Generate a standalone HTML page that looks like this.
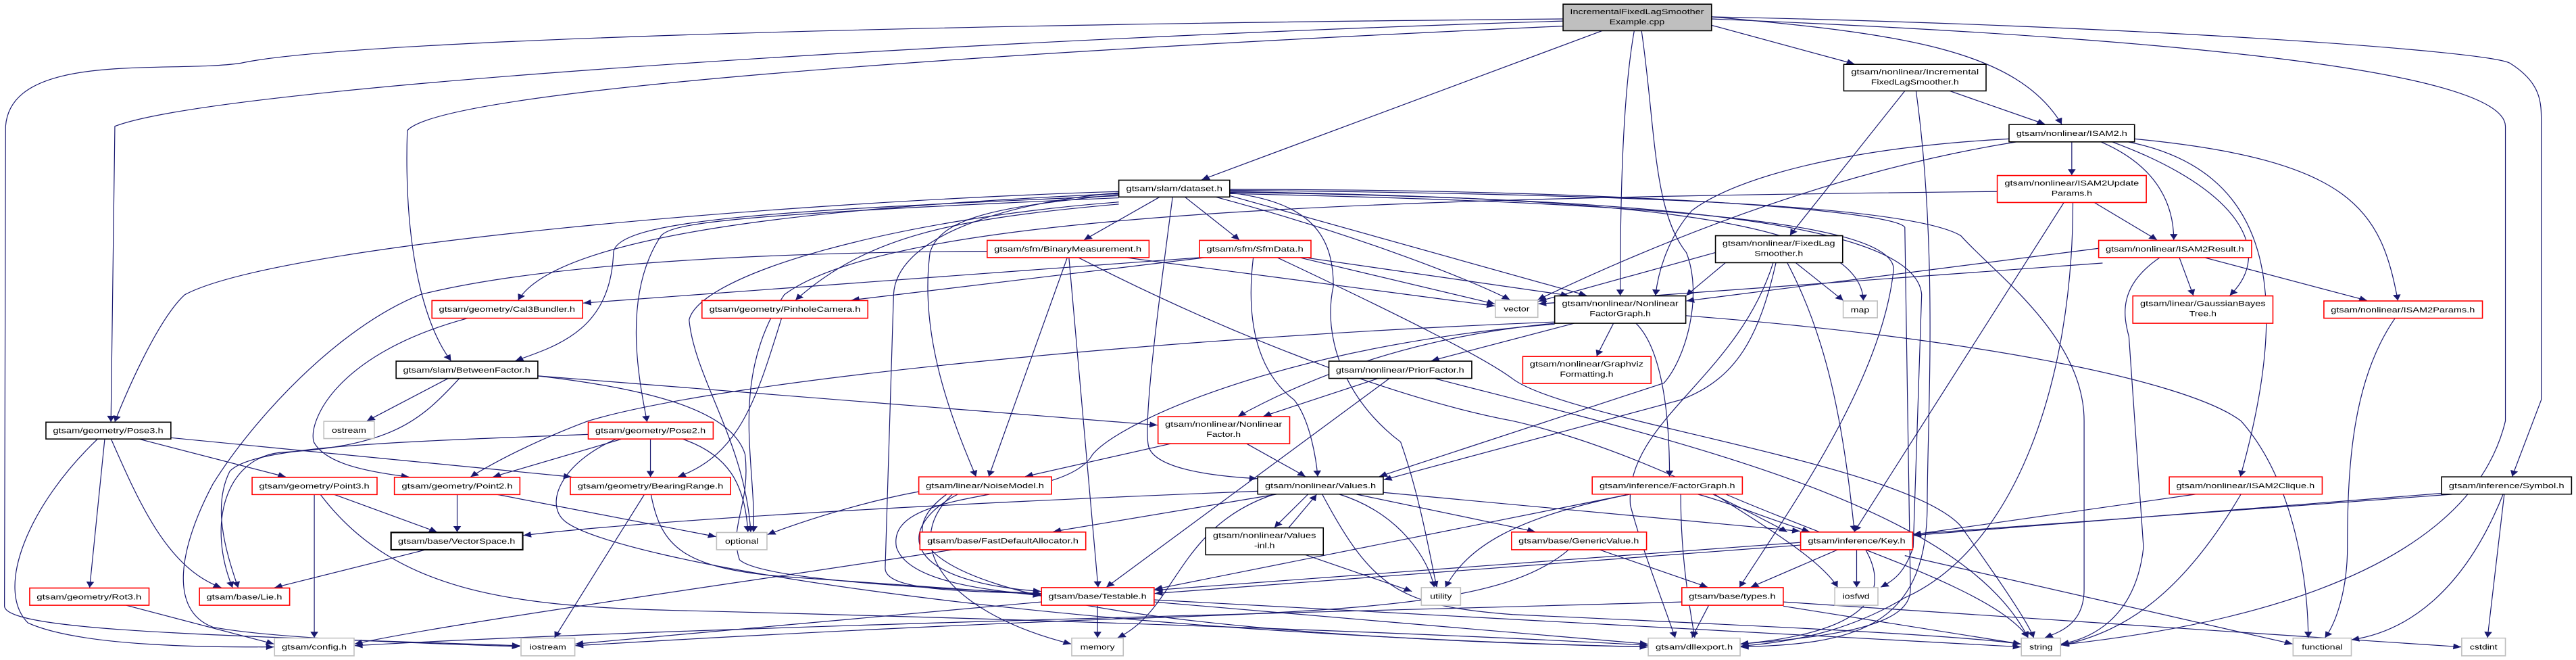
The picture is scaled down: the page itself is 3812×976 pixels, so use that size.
<!DOCTYPE html>
<html><head><meta charset="utf-8"><style>
html,body{margin:0;padding:0;background:#fff;}
svg{display:block;}
text{font-family:"Liberation Sans","DejaVu Sans",sans-serif;font-size:17px;fill:#000;}
.e{fill:none;stroke:#191970;stroke-width:1.2;vector-effect:non-scaling-stroke;}
.b{fill:#fff;stroke:#000;stroke-width:1.6;vector-effect:non-scaling-stroke;}
.r{fill:#fff;stroke:#ff0000;stroke-width:1.6;vector-effect:non-scaling-stroke;}
.g{fill:#fff;stroke:#bfbfbf;stroke-width:1.6;vector-effect:non-scaling-stroke;}
.root{fill:#bfbfbf;stroke:#000;stroke-width:1.6;vector-effect:non-scaling-stroke;}
</style></head><body>
<svg width="3812" height="976" viewBox="0 0 4598 1568" preserveAspectRatio="none" xmlns="http://www.w3.org/2000/svg">
<defs><marker id="a" viewBox="0 0 10 10" refX="10" refY="5" markerUnits="userSpaceOnUse" markerWidth="16" markerHeight="14" orient="auto"><path d="M0,0 L10,5 L0,10 z" fill="#191970"/></marker></defs>
<g class="edges" marker-end="url(#a)">
<!-- Example.cpp -->
<path class="e" marker-end="url(#a)" d="M2790,45 C1500,60 600,100 430,150 C300,175 20,120 10,300 L8,1440 C10,1500 400,1510 928,1534"/>
<path class="e" marker-end="url(#a)" d="M2790,50 C1800,90 400,200 205,300 L198,1002"/>
<path class="e" marker-end="url(#a)" d="M2790,62 C2000,110 800,200 727,310 C720,600 760,780 805,857"/>
<path class="e" marker-end="url(#a)" d="M2860,73 L2145,427"/>
<path class="e" marker-end="url(#a)" d="M2917,73 C2900,200 2892,400 2892,702"/>
<path class="e" marker-end="url(#a)" d="M2930,73 C2955,300 2950,500 3010,600 C3040,700 3010,850 2970,910 L2462,1132"/>
<path class="e" marker-end="url(#a)" d="M3055,60 L3310,152"/>
<path class="e" marker-end="url(#a)" d="M3055,40 C3400,80 3600,120 3680,295"/>
<path class="e" marker-end="url(#a)" d="M3055,45 C3700,80 4470,150 4472,300 L4472,1000 C4400,1400 3900,1500 3678,1532"/>
<path class="e" marker-end="url(#a)" d="M3055,40 C3800,60 4440,120 4480,150 C4540,200 4536,250 4536,300 L4536,950 L4484,1132"/>
<!-- dataset -->
<path class="e" marker-end="url(#a)" d="M1997,455 C1400,480 500,580 330,700 C280,760 220,950 205,1002"/>
<path class="e" marker-end="url(#a)" d="M1997,460 C1500,490 1000,550 925,713"/>
<path class="e" marker-end="url(#a)" d="M1997,465 C1400,500 1100,520 1095,600 C1090,780 1000,820 920,857"/>
<path class="e" marker-end="url(#a)" d="M1997,470 C1300,510 1200,530 1180,560 C1110,700 1140,900 1155,1002"/>
<path class="e" marker-end="url(#a)" d="M1997,480 C1600,520 1250,650 1230,760 C1240,900 1330,1050 1340,1264"/>
<path class="e" marker-end="url(#a)" d="M1997,485 C1700,520 1550,560 1420,713"/>
<path class="e" marker-end="url(#a)" d="M1997,462 C1800,490 1680,510 1660,600 C1640,800 1700,1000 1742,1132"/>
<path class="e" marker-end="url(#a)" d="M1997,458 C1800,480 1600,560 1595,700 L1580,1350 C1580,1400 1700,1405 1858,1410"/>
<path class="e" marker-end="url(#a)" d="M2070,468 L1935,570"/>
<path class="e" marker-end="url(#a)" d="M2115,468 L2212,570"/>
<path class="e" marker-end="url(#a)" d="M2093,468 C2070,700 2040,1000 2050,1060 C2060,1110 2150,1130 2244,1137"/>
<path class="e" marker-end="url(#a)" d="M2170,468 C2400,550 2600,650 2695,712"/>
<path class="e" marker-end="url(#a)" d="M2195,465 L2832,702"/>
<path class="e" marker-end="url(#a)" d="M2195,458 C2340,480 2380,560 2380,680 C2360,800 2400,950 2500,1050 C2540,1200 2560,1380 2565,1395"/>
<path class="e" marker-end="url(#a)" d="M2195,452 C2800,460 3400,480 3500,560 C3560,650 3720,800 3720,1000 L3720,1400 C3720,1480 3680,1500 3650,1515"/>
<path class="e" marker-end="url(#a)" d="M2195,455 C2800,470 3320,500 3326,714"/>
<path class="e" marker-end="url(#a)" d="M2195,457 C2900,470 3420,520 3430,700 L3415,1300 C3400,1360 3380,1380 3357,1395"/>
<path class="e" marker-end="url(#a)" d="M2195,460 C2900,480 3380,520 3380,640 C3360,900 3200,1200 3105,1395"/>
<path class="e" marker-end="url(#a)" d="M2195,450 C2900,450 3380,500 3400,540 L3410,1400 C3410,1480 3300,1510 3106,1530"/>
<!-- BinaryMeasurement -->
<path class="e" marker-end="url(#a)" d="M1762,597 C1200,600 900,650 750,700 C600,780 450,1000 380,1150 C320,1300 300,1450 380,1490 C500,1520 800,1530 928,1536"/>
<path class="e" marker-end="url(#a)" d="M1905,612 L1765,1132"/>
<path class="e" marker-end="url(#a)" d="M1908,612 L1960,1395"/>
<path class="e" marker-end="url(#a)" d="M2010,612 L2668,727"/>
<path class="e" marker-end="url(#a)" d="M1925,612 C2200,800 2500,950 2700,1000 C2900,1060 3100,1200 3190,1264"/>
<!-- SfmData -->
<path class="e" marker-end="url(#a)" d="M2141,612 L1041,720"/>
<path class="e" marker-end="url(#a)" d="M2150,612 L1520,713"/>
<path class="e" marker-end="url(#a)" d="M2320,612 L2668,722"/>
<path class="e" marker-end="url(#a)" d="M2330,612 L2800,702"/>
<path class="e" marker-end="url(#a)" d="M2237,612 C2220,800 2260,900 2310,950 C2340,1000 2350,1100 2352,1132"/>
<path class="e" marker-end="url(#a)" d="M2280,612 C2500,750 2650,850 2700,900 C2800,1000 3400,1100 3500,1250 C3580,1400 3620,1480 3630,1515"/>
<!-- NFG -->
<path class="e" marker-end="url(#a)" d="M2810,768 L2555,857"/>
<path class="e" marker-end="url(#a)" d="M2880,768 L2850,846"/>
<path class="e" marker-end="url(#a)" d="M2920,768 C2960,820 2980,950 2980,1132"/>
<path class="e" marker-end="url(#a)" d="M2775,768 C2600,790 2400,850 2210,989"/>
<path class="e" marker-end="url(#a)" d="M2775,765 C2100,800 1300,900 1050,1000 C950,1050 880,1100 840,1133"/>
<path class="e" marker-end="url(#a)" d="M2775,770 C2300,820 2000,1000 1950,1080 C1900,1200 1580,1150 1600,1300 C1620,1380 1750,1400 1858,1415"/>
<path class="e" marker-end="url(#a)" d="M3009,750 C3500,800 3900,900 4000,1000 C4100,1150 4120,1400 4120,1515"/>
<!-- PriorFactor -->
<path class="e" marker-end="url(#a)" d="M2460,899 L2255,989"/>
<path class="e" marker-end="url(#a)" d="M2480,899 L1975,1395"/>
<path class="e" marker-end="url(#a)" d="M2560,899 C3000,1050 3500,1200 3620,1515"/>
<!-- NonlinearFactor -->
<path class="e" marker-end="url(#a)" d="M2090,1054 L1830,1132"/>
<path class="e" marker-end="url(#a)" d="M2225,1054 L2330,1132"/>
<!-- BetweenFactor -->
<path class="e" marker-end="url(#a)" d="M800,899 L655,1000"/>
<path class="e" marker-end="url(#a)" d="M820,899 C750,1000 700,1060 500,1075 C400,1090 370,1250 415,1396"/>
<path class="e" marker-end="url(#a)" d="M960,893 L2066,1010"/>
<path class="e" marker-end="url(#a)" d="M960,893 C1200,930 1310,990 1330,1080 C1340,1200 1300,1250 1320,1330 C1360,1380 1700,1400 1858,1410"/>
<!-- geometry -->
<path class="e" marker-end="url(#a)" d="M835,756 C600,840 550,1000 560,1050 C580,1100 650,1120 730,1133"/>
<path class="e" marker-end="url(#a)" d="M1395,756 C1350,950 1320,1080 1210,1133"/>
<path class="e" marker-end="url(#a)" d="M187,1042 L160,1396"/>
<path class="e" marker-end="url(#a)" d="M198,1042 C250,1200 300,1350 395,1396"/>
<path class="e" marker-end="url(#a)" d="M245,1042 L510,1133"/>
<path class="e" marker-end="url(#a)" d="M305,1040 L1020,1133"/>
<path class="e" marker-end="url(#a)" d="M175,1042 C50,1200 -10,1400 50,1480 C150,1540 400,1537 489,1537"/>
<path class="e" marker-end="url(#a)" d="M1050,1032 C700,1050 450,1060 410,1120 C380,1200 400,1300 425,1396"/>
<path class="e" marker-end="url(#a)" d="M1110,1043 L880,1133"/>
<path class="e" marker-end="url(#a)" d="M1161,1043 L1161,1133"/>
<path class="e" marker-end="url(#a)" d="M1218,1043 C1300,1080 1330,1150 1335,1264"/>
<path class="e" marker-end="url(#a)" d="M1100,1043 C1000,1100 970,1200 1010,1240 C1100,1330 1800,1500 2941,1537"/>
<path class="e" marker-end="url(#a)" d="M561,1175 L561,1515"/>
<path class="e" marker-end="url(#a)" d="M597,1175 L780,1264"/>
<path class="e" marker-end="url(#a)" d="M572,1175 C700,1400 900,1440 1200,1450 C1800,1470 2500,1500 2941,1533"/>
<path class="e" marker-end="url(#a)" d="M816,1175 L816,1264"/>
<path class="e" marker-end="url(#a)" d="M888,1175 L1278,1275"/>
<path class="e" marker-end="url(#a)" d="M1150,1175 L990,1515"/>
<path class="e" marker-end="url(#a)" d="M1162,1175 C1180,1300 1220,1350 1400,1370 L1858,1413"/>
<path class="e" marker-end="url(#a)" d="M760,1306 L490,1396"/>
<path class="e" marker-end="url(#a)" d="M225,1438 L489,1530"/>
<!-- Testable -->
<path class="e" marker-end="url(#a)" d="M1959,1438 L1959,1515"/>
<path class="e" marker-end="url(#a)" d="M1859,1430 C1500,1470 1200,1510 1027,1530"/>
<path class="e" marker-end="url(#a)" d="M2060,1425 L3607,1537"/>
<path class="e" marker-end="url(#a)" d="M2060,1430 L2941,1530"/>
<path class="e" marker-end="url(#a)" d="M1700,1306 C1400,1370 800,1480 633,1530"/>
<!-- NoiseModel -->
<path class="e" marker-end="url(#a)" d="M1640,1168 C1550,1190 1450,1230 1370,1270"/>
<path class="e" marker-end="url(#a)" d="M1710,1174 C1600,1250 1600,1380 1858,1405"/>
<path class="e" marker-end="url(#a)" d="M1690,1174 C1560,1300 1650,1500 2941,1537"/>
<path class="e" marker-end="url(#a)" d="M1700,1174 C1600,1300 1700,1460 1912,1530"/>
<!-- Values -->
<path class="e" marker-end="url(#a)" d="M2245,1167 C1800,1190 1200,1230 934,1272"/>
<path class="e" marker-end="url(#a)" d="M2280,1174 L1880,1263"/>
<path class="e" marker-end="url(#a)" d="M2335,1174 L2275,1253"/>
<path class="e" marker-end="url(#a)" d="M2300,1254 L2350,1175"/>
<path class="e" marker-end="url(#a)" d="M2420,1174 L2740,1263"/>
<path class="e" marker-end="url(#a)" d="M2390,1174 C2500,1220 2550,1330 2560,1395"/>
<path class="e" marker-end="url(#a)" d="M2275,1174 C2100,1250 2100,1450 1995,1515"/>
<path class="e" marker-end="url(#a)" d="M2360,1174 C2450,1400 2500,1440 2700,1460 C3200,1490 3500,1510 3607,1530"/>
<path class="e" marker-end="url(#a)" d="M2469,1170 L3213,1262"/>
<path class="e" marker-end="url(#a)" d="M2330,1318 L2520,1405"/>
<!-- GenericValue / FactorGraph / Key / types -->
<path class="e" marker-end="url(#a)" d="M2855,1306 L3048,1395"/>
<path class="e" marker-end="url(#a)" d="M2800,1306 C2700,1420 2500,1450 2000,1470 C1600,1490 1200,1520 1027,1534"/>
<path class="e" marker-end="url(#a)" d="M2910,1174 C2700,1230 2620,1300 2580,1395"/>
<path class="e" marker-end="url(#a)" d="M2910,1174 L2061,1400"/>
<path class="e" marker-end="url(#a)" d="M3030,1174 C3100,1200 3170,1240 3230,1263"/>
<path class="e" marker-end="url(#a)" d="M3060,1174 C3150,1250 3250,1330 3280,1395"/>
<path class="e" marker-end="url(#a)" d="M3080,1174 C3300,1300 3560,1400 3620,1515"/>
<path class="e" marker-end="url(#a)" d="M3000,1174 C3000,1300 3010,1400 3025,1515"/>
<path class="e" marker-end="url(#a)" d="M3280,1306 L3125,1395"/>
<path class="e" marker-end="url(#a)" d="M3314,1306 L3314,1395"/>
<path class="e" marker-end="url(#a)" d="M3330,1306 C3370,1400 3350,1500 3107,1530"/>
<path class="e" marker-end="url(#a)" d="M3400,1320 L4092,1530"/>
<path class="e" marker-end="url(#a)" d="M3214,1295 L2061,1410"/>
<path class="e" marker-end="url(#a)" d="M3050,1438 L3020,1515"/>
<path class="e" marker-end="url(#a)" d="M3183,1440 L3607,1530"/>
<path class="e" marker-end="url(#a)" d="M3183,1430 L4393,1537"/>
<path class="e" marker-end="url(#a)" d="M3002,1430 C2500,1450 1200,1490 633,1534"/>
<!-- ISAM2 -->
<path class="e" marker-end="url(#a)" d="M3698,337 L3698,416"/>
<path class="e" marker-end="url(#a)" d="M3586,330 C3300,350 3100,420 3020,500 C2980,560 2960,640 2955,702"/>
<path class="e" marker-end="url(#a)" d="M3600,337 C3300,400 3000,550 2745,712"/>
<path class="e" marker-end="url(#a)" d="M3750,337 C3860,400 3880,500 3880,570"/>
<path class="e" marker-end="url(#a)" d="M3770,337 C4000,450 4060,600 3980,702"/>
<path class="e" marker-end="url(#a)" d="M3790,335 C4060,400 4090,700 3999,1132"/>
<path class="e" marker-end="url(#a)" d="M3810,330 C4200,380 4250,500 4280,714"/>
<path class="e" marker-end="url(#a)" d="M3738,481 L3850,570"/>
<path class="e" marker-end="url(#a)" d="M3684,481 L3310,1263"/>
<path class="e" marker-end="url(#a)" d="M3700,481 C3700,900 3600,1300 3400,1420 C3300,1500 3200,1525 3107,1535"/>
<path class="e" marker-end="url(#a)" d="M3565,455 C2500,470 1600,500 1400,700 C1300,900 1350,1100 1345,1264"/>
<path class="e" marker-end="url(#a)" d="M3746,590 L3010,715"/>
<path class="e" marker-end="url(#a)" d="M3890,612 L3915,702"/>
<path class="e" marker-end="url(#a)" d="M3935,612 L4225,714"/>
<path class="e" marker-end="url(#a)" d="M3855,612 C3780,680 3790,750 3800,800 L3826,1300 C3810,1500 3700,1525 3679,1530"/>
<path class="e" marker-end="url(#a)" d="M3753,625 L2746,722"/>
<path class="e" marker-end="url(#a)" d="M4275,756 C4200,900 4190,1100 4190,1300 C4190,1400 4170,1480 4150,1515"/>
<path class="e" marker-end="url(#a)" d="M3920,1174 L3415,1270"/>
<path class="e" marker-end="url(#a)" d="M4000,1174 C3900,1400 3800,1500 3679,1533"/>
<path class="e" marker-end="url(#a)" d="M4358,1172 L3415,1272"/>
<path class="e" marker-end="url(#a)" d="M4380,1174 L2061,1402"/>
<path class="e" marker-end="url(#a)" d="M4468,1174 C4400,1400 4300,1500 4197,1520"/>
<path class="e" marker-end="url(#a)" d="M4470,1174 L4440,1515"/>
<!-- IFLS / FixedLagSmoother -->
<path class="e" marker-end="url(#a)" d="M3480,216 L3650,295"/>
<path class="e" marker-end="url(#a)" d="M3400,216 L3195,559"/>
<path class="e" marker-end="url(#a)" d="M3420,216 C3460,600 3440,1000 3440,1200 C3440,1500 3300,1530 3107,1537"/>
<path class="e" marker-end="url(#a)" d="M3062,600 L2746,716"/>
<path class="e" marker-end="url(#a)" d="M3080,624 L3010,702"/>
<path class="e" marker-end="url(#a)" d="M3205,624 L3290,714"/>
<path class="e" marker-end="url(#a)" d="M3190,624 C3260,800 3290,1000 3310,1263"/>
<path class="e" marker-end="url(#a)" d="M3170,624 C3140,800 3100,900 3000,950 L2470,1140"/>
<path class="e" marker-end="url(#a)" d="M3165,624 C3100,900 2900,1000 2910,1200 C2930,1300 2960,1400 2990,1515"/>
</g>
<g class="nodes">
<rect class="b" x="82" y="1003" width="223" height="40"/><text x="193" y="1029" text-anchor="middle" textLength="197" lengthAdjust="spacingAndGlyphs">gtsam/geometry/Pose3.h</text>
<rect class="g" x="578" y="1001" width="90" height="41"/><text x="623" y="1028" text-anchor="middle">ostream</text>
<rect class="r" x="1050" y="1003" width="223" height="40"/><text x="1161" y="1029" text-anchor="middle" textLength="197" lengthAdjust="spacingAndGlyphs">gtsam/geometry/Pose2.h</text>
<rect class="r" x="771" y="714" width="269" height="42"/><text x="905" y="741" text-anchor="middle" textLength="243" lengthAdjust="spacingAndGlyphs">gtsam/geometry/Cal3Bundler.h</text>
<rect class="r" x="1253" y="714" width="296" height="42"/><text x="1401" y="741" text-anchor="middle" textLength="270" lengthAdjust="spacingAndGlyphs">gtsam/geometry/PinholeCamera.h</text>
<rect class="b" x="707" y="858" width="253" height="41"/><text x="833" y="885" text-anchor="middle" textLength="227" lengthAdjust="spacingAndGlyphs">gtsam/slam/BetweenFactor.h</text>
<rect class="r" x="450" y="1134" width="223" height="41"/><text x="561" y="1161" text-anchor="middle" textLength="197" lengthAdjust="spacingAndGlyphs">gtsam/geometry/Point3.h</text>
<rect class="r" x="704" y="1134" width="224" height="41"/><text x="816" y="1161" text-anchor="middle" textLength="198" lengthAdjust="spacingAndGlyphs">gtsam/geometry/Point2.h</text>
<rect class="r" x="1018" y="1134" width="286" height="41"/><text x="1161" y="1161" text-anchor="middle" textLength="260" lengthAdjust="spacingAndGlyphs">gtsam/geometry/BearingRange.h</text>
<rect class="b" x="698" y="1265" width="235" height="41" style="stroke-width:2.2"/><text x="815" y="1292" text-anchor="middle" textLength="209" lengthAdjust="spacingAndGlyphs">gtsam/base/VectorSpace.h</text>
<rect class="g" x="1279" y="1265" width="90" height="41"/><text x="1324" y="1292" text-anchor="middle">optional</text>
<rect class="r" x="53" y="1397" width="213" height="41"/><text x="159" y="1424" text-anchor="middle" textLength="187" lengthAdjust="spacingAndGlyphs">gtsam/geometry/Rot3.h</text>
<rect class="r" x="356" y="1397" width="161" height="41"/><text x="436" y="1424" text-anchor="middle" textLength="135" lengthAdjust="spacingAndGlyphs">gtsam/base/Lie.h</text>
<rect class="g" x="490" y="1516" width="142" height="42"/><text x="561" y="1543" text-anchor="middle" textLength="116" lengthAdjust="spacingAndGlyphs">gtsam/config.h</text>
<rect class="g" x="930" y="1516" width="96" height="42"/><text x="978" y="1543" text-anchor="middle">iostream</text>
<rect class="root" x="2790" y="10" width="265" height="63"/><text x="2922" y="34" text-anchor="middle" textLength="239" lengthAdjust="spacingAndGlyphs">IncrementalFixedLagSmoother</text><text x="2922" y="58" text-anchor="middle">Example.cpp</text>
<rect class="b" x="1997" y="428" width="198" height="40"/><text x="2096" y="454" text-anchor="middle" textLength="172" lengthAdjust="spacingAndGlyphs">gtsam/slam/dataset.h</text>
<rect class="r" x="1762" y="571" width="289" height="41"/><text x="1906" y="598" text-anchor="middle" textLength="263" lengthAdjust="spacingAndGlyphs">gtsam/sfm/BinaryMeasurement.h</text>
<rect class="r" x="2141" y="571" width="199" height="41"/><text x="2240" y="598" text-anchor="middle" textLength="173" lengthAdjust="spacingAndGlyphs">gtsam/sfm/SfmData.h</text>
<rect class="g" x="2669" y="713" width="76" height="41"/><text x="2707" y="740" text-anchor="middle">vector</text>
<rect class="b" x="2775" y="703" width="234" height="65"/><text x="2892" y="727" text-anchor="middle" textLength="208" lengthAdjust="spacingAndGlyphs">gtsam/nonlinear/Nonlinear</text><text x="2892" y="751" text-anchor="middle">FactorGraph.h</text>
<rect class="b" x="2372" y="858" width="255" height="41"/><text x="2499" y="885" text-anchor="middle" textLength="229" lengthAdjust="spacingAndGlyphs">gtsam/nonlinear/PriorFactor.h</text>
<rect class="r" x="2718" y="847" width="229" height="64"/><text x="2832" y="871" text-anchor="middle" textLength="203" lengthAdjust="spacingAndGlyphs">gtsam/nonlinear/Graphviz</text><text x="2832" y="895" text-anchor="middle">Formatting.h</text>
<rect class="r" x="2067" y="990" width="235" height="64"/><text x="2184" y="1014" text-anchor="middle" textLength="209" lengthAdjust="spacingAndGlyphs">gtsam/nonlinear/Nonlinear</text><text x="2184" y="1038" text-anchor="middle">Factor.h</text>
<rect class="r" x="1640" y="1133" width="237" height="41"/><text x="1758" y="1160" text-anchor="middle" textLength="211" lengthAdjust="spacingAndGlyphs">gtsam/linear/NoiseModel.h</text>
<rect class="b" x="2245" y="1133" width="224" height="41"/><text x="2357" y="1160" text-anchor="middle" textLength="198" lengthAdjust="spacingAndGlyphs">gtsam/nonlinear/Values.h</text>
<rect class="r" x="2842" y="1133" width="268" height="41"/><text x="2976" y="1160" text-anchor="middle" textLength="242" lengthAdjust="spacingAndGlyphs">gtsam/inference/FactorGraph.h</text>
<rect class="r" x="1642" y="1264" width="296" height="42"/><text x="1790" y="1291" text-anchor="middle" textLength="270" lengthAdjust="spacingAndGlyphs">gtsam/base/FastDefaultAllocator.h</text>
<rect class="b" x="2152" y="1254" width="210" height="64"/><text x="2257" y="1278" text-anchor="middle" textLength="184" lengthAdjust="spacingAndGlyphs">gtsam/nonlinear/Values</text><text x="2257" y="1302" text-anchor="middle">-inl.h</text>
<rect class="r" x="2698" y="1264" width="241" height="42"/><text x="2818" y="1291" text-anchor="middle" textLength="215" lengthAdjust="spacingAndGlyphs">gtsam/base/GenericValue.h</text>
<rect class="r" x="1859" y="1396" width="201" height="42"/><text x="1959" y="1423" text-anchor="middle" textLength="175" lengthAdjust="spacingAndGlyphs">gtsam/base/Testable.h</text>
<rect class="g" x="2537" y="1396" width="70" height="42"/><text x="2572" y="1423" text-anchor="middle">utility</text>
<rect class="r" x="3002" y="1396" width="181" height="42"/><text x="3092" y="1423" text-anchor="middle" textLength="155" lengthAdjust="spacingAndGlyphs">gtsam/base/types.h</text>
<rect class="g" x="1913" y="1516" width="92" height="42"/><text x="1959" y="1543" text-anchor="middle">memory</text>
<rect class="g" x="2942" y="1516" width="164" height="42"/><text x="3024" y="1543" text-anchor="middle" textLength="138" lengthAdjust="spacingAndGlyphs">gtsam/dllexport.h</text>
<rect class="b" x="3291" y="153" width="254" height="63"/><text x="3418" y="177" text-anchor="middle" textLength="228" lengthAdjust="spacingAndGlyphs">gtsam/nonlinear/Incremental</text><text x="3418" y="201" text-anchor="middle">FixedLagSmoother.h</text>
<rect class="b" x="3586" y="296" width="224" height="41"/><text x="3698" y="323" text-anchor="middle" textLength="198" lengthAdjust="spacingAndGlyphs">gtsam/nonlinear/ISAM2.h</text>
<rect class="r" x="3565" y="417" width="266" height="64"/><text x="3698" y="441" text-anchor="middle" textLength="240" lengthAdjust="spacingAndGlyphs">gtsam/nonlinear/ISAM2Update</text><text x="3698" y="465" text-anchor="middle">Params.h</text>
<rect class="b" x="3062" y="560" width="227" height="64"/><text x="3175" y="584" text-anchor="middle" textLength="201" lengthAdjust="spacingAndGlyphs">gtsam/nonlinear/FixedLag</text><text x="3175" y="608" text-anchor="middle">Smoother.h</text>
<rect class="r" x="3746" y="571" width="273" height="41"/><text x="3882" y="598" text-anchor="middle" textLength="247" lengthAdjust="spacingAndGlyphs">gtsam/nonlinear/ISAM2Result.h</text>
<rect class="g" x="3290" y="715" width="61" height="40"/><text x="3320" y="742" text-anchor="middle">map</text>
<rect class="r" x="3807" y="703" width="250" height="65"/><text x="3932" y="727" text-anchor="middle" textLength="224" lengthAdjust="spacingAndGlyphs">gtsam/linear/GaussianBayes</text><text x="3932" y="751" text-anchor="middle">Tree.h</text>
<rect class="r" x="4148" y="715" width="283" height="41"/><text x="4289" y="742" text-anchor="middle" textLength="257" lengthAdjust="spacingAndGlyphs">gtsam/nonlinear/ISAM2Params.h</text>
<rect class="r" x="3872" y="1133" width="273" height="41"/><text x="4008" y="1160" text-anchor="middle" textLength="247" lengthAdjust="spacingAndGlyphs">gtsam/nonlinear/ISAM2Clique.h</text>
<rect class="b" x="4358" y="1133" width="232" height="41"/><text x="4474" y="1160" text-anchor="middle" textLength="206" lengthAdjust="spacingAndGlyphs">gtsam/inference/Symbol.h</text>
<rect class="r" x="3214" y="1264" width="200" height="42"/><text x="3314" y="1291" text-anchor="middle" textLength="174" lengthAdjust="spacingAndGlyphs">gtsam/inference/Key.h</text>
<rect class="g" x="3275" y="1396" width="77" height="42"/><text x="3313" y="1423" text-anchor="middle">iosfwd</text>
<rect class="g" x="3608" y="1516" width="70" height="42"/><text x="3643" y="1543" text-anchor="middle">string</text>
<rect class="g" x="4093" y="1516" width="104" height="42"/><text x="4145" y="1543" text-anchor="middle">functional</text>
<rect class="g" x="4394" y="1516" width="78" height="42"/><text x="4433" y="1543" text-anchor="middle">cstdint</text>
</g>
</svg>
</body></html>
